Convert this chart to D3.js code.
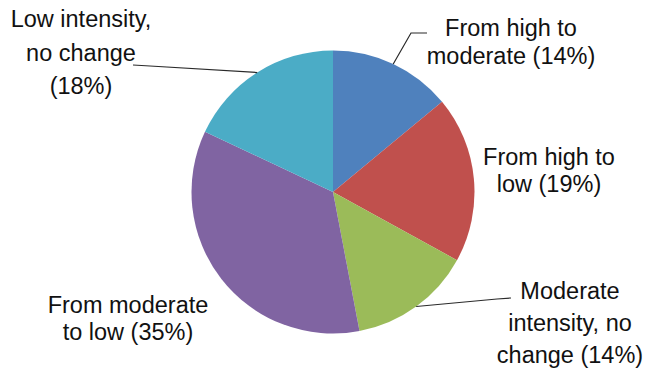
<!DOCTYPE html>
<html>
<head>
<meta charset="utf-8">
<script src="https://cdn.jsdelivr.net/npm/d3@7/dist/d3.min.js"></script>
<style>
  html, body { margin: 0; padding: 0; background: #fff; }
  svg { display: block; }
  text { font-family: "Liberation Sans", Arial, Helvetica, sans-serif; fill: #111; }
</style>
</head>
<body>
<svg id="chart" width="646" height="371"></svg>
<script>
// Share of participants by change in intensity (percent)
const categories = [
  "From high to moderate",
  "From high to low",
  "Moderate intensity, no change",
  "From moderate to low",
  "Low intensity, no change"
];
const values = [14, 19, 14, 35, 18];
const colors = ["#4f81bd", "#c0504d", "#9bbb59", "#8064a2", "#4bacc6"];

// Wrapped label text per slice; the percentage is appended to the last line
const labelLines = [
  ["From high to", "moderate"],
  ["From high to", "low"],
  ["Moderate", "intensity, no", "change"],
  ["From moderate", "to low"],
  ["Low intensity,", "no change", ""]
];

// Label placement: centre x, first baseline, line step, optional leader path
const labelLayout = [
  { x: 511, y: 36, step: 27.5, leader: [[411, 33], [427, 33]] },
  { x: 549, y: 165, step: 27, leader: null },
  { x: 570, y: 299, step: 32, leader: [[497, 299], [511, 298]] },
  { x: 128, y: 313, step: 27, leader: null },
  { x: 81, y: 27, step: 33.5, leader: [[150, 66], [133, 65]] }
];

const svg = d3.select("#chart");
const cx = 333, cy = 192, radius = 141.5;

const pie = d3.pie().sort(null).value(d => d.value);
const arc = d3.arc().innerRadius(0).outerRadius(radius);

const data = categories.map((c, i) => ({ name: c, value: values[i], color: colors[i] }));
const arcs = pie(data);

const g = svg.append("g").attr("transform", `translate(${cx},${cy})`);

g.selectAll("path.slice")
  .data(arcs)
  .join("path")
  .attr("class", "slice")
  .attr("d", arc)
  .attr("fill", d => d.data.color);

// Leader lines from the outer edge at each slice's mid-angle
const line = d3.line();
arcs.forEach((a, i) => {
  const lay = labelLayout[i];
  if (!lay.leader) return;
  const mid = (a.startAngle + a.endAngle) / 2;
  const start = [cx + radius * Math.sin(mid), cy - radius * Math.cos(mid)];
  svg.append("path")
    .attr("d", line([start, ...lay.leader]))
    .attr("fill", "none")
    .attr("stroke", "#2a2a2a")
    .attr("stroke-width", 1.2);
});

// Labels
arcs.forEach((a, i) => {
  const lay = labelLayout[i];
  const lines = labelLines[i].slice();
  const last = lines.length - 1;
  const pct = `(${a.data.value}%)`;
  lines[last] = lines[last] ? `${lines[last]} ${pct}` : pct;
  const t = svg.append("text")
    .attr("text-anchor", "middle")
    .attr("font-size", 23.5);
  lines.forEach((s, k) => {
    t.append("tspan")
      .attr("x", lay.x)
      .attr("y", lay.y + k * lay.step)
      .text(s);
  });
});
</script>
</body>
</html>
